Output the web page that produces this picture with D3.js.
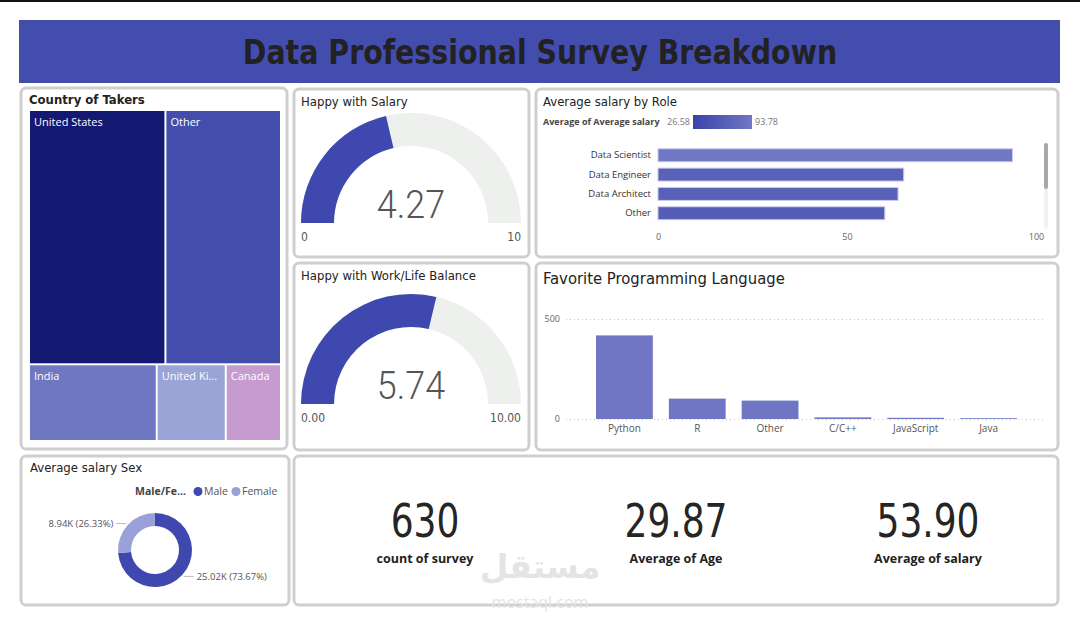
<!DOCTYPE html>
<html>
<head>
<meta charset="utf-8">
<script src="https://cdn.jsdelivr.net/npm/d3@7"></script>
<style>
  body { margin: 0; background: #fff; }
  text { font-family: "Open Sans", "Noto Sans", sans-serif; }
  .din { font-family: "DejaVu Sans Condensed", "Roboto", sans-serif; }
  .num { font-family: "Roboto", sans-serif; }
</style>
</head>
<body>
<svg id="dash" width="1080" height="622"></svg>
<script>
// ---- data ----
const countries = ["United States", "Other", "India", "United Kingdom", "Canada"];
const countryCounts = [262, 222, 74, 40, 32];

const happySalary = 4.27;
const happyBalance = 5.74;

const roles = ["Data Scientist", "Data Engineer", "Data Architect", "Other"];
const roleSalary = [93.78, 65.0, 63.5, 60.0];
const salaryRange = [26.58, 93.78];
const roleTicks = [0, 50, 100];

const languages = ["Python", "R", "Other", "C/C++", "JavaScript", "Java"];
const languageCounts = [418, 102, 92, 8, 6, 4];
const languageTicks = [0, 500];

const sexes = ["Male", "Female"];
const sexSalary = [25020, 8940];

const kpiValues = ["630", "29.87", "53.90"];
const kpiLabels = ["count of survey", "Average of Age", "Average of salary"];

// ---- colours ----
const indigo = "#3f48ae";
const countryColors = ["#131871", "#434dac", "#6e78c2", "#9ba4d6", "#c59bd0"];
const sexColors = [indigo, "#9aa0d8"];

const svg = d3.select("#dash");

// top frame line + banner
svg.append("rect").attr("x", 0).attr("y", 0).attr("width", 1080).attr("height", 2).attr("fill", "#111");
svg.append("rect").attr("x", 19).attr("y", 20).attr("width", 1041).attr("height", 63).attr("fill", "#434dae");
svg.append("text").attr("class", "din")
    .attr("transform", "translate(540,64) scale(0.93,1)")
    .attr("text-anchor", "middle")
    .attr("font-size", 34).attr("font-weight", "bold")
    .attr("fill", "#222")
    .text("Data Professional Survey Breakdown");

// cards
const cards = [
    [21, 88, 266, 361], [294, 89, 235, 168], [294, 263, 235, 187],
    [536, 89, 522, 168], [536, 263, 522, 187], [21, 456, 268, 149], [294, 456, 764, 149]
];
svg.selectAll(".card").data(cards).enter().append("rect")
    .attr("class", "card")
    .attr("x", d => d[0]).attr("y", d => d[1])
    .attr("width", d => d[2]).attr("height", d => d[3])
    .attr("rx", 5)
    .attr("fill", "#fff").attr("stroke", "#cfcfcf").attr("stroke-width", 3);

function title(x, y, txt, size, weight) {
    svg.append("text").attr("class", "din")
        .attr("x", x).attr("y", y)
        .attr("font-size", size).attr("font-weight", weight || "normal")
        .attr("fill", "#222").text(txt);
}

// ---- treemap: Country of Takers ----
title(29, 104, "Country of Takers", 13, "bold");

const treeRoot = d3.hierarchy({ children: countries.map((c, i) => ({ name: c, value: countryCounts[i] })) })
    .sum(d => d.value || 0);

d3.treemap()
    .size([250, 329])
    .paddingInner(2)
    .tile((node, x0, y0, x1, y1) => {
        // two largest on the top row, the rest underneath
        const top = node.children.slice(0, 2), bottom = node.children.slice(2);
        const topSum = d3.sum(top, d => d.value);
        const yMid = y0 + (y1 - y0) * topSum / node.value;
        d3.treemapDice({ children: top, value: topSum }, x0, y0, x1, yMid);
        d3.treemapDice({ children: bottom, value: node.value - topSum }, x0, yMid, x1, y1);
    })(treeRoot);

const tm = svg.append("g").attr("transform", "translate(30,111)");
const cell = tm.selectAll("g").data(treeRoot.leaves()).enter().append("g")
    .attr("transform", d => `translate(${d.x0},${d.y0})`);
cell.append("rect")
    .attr("width", d => d.x1 - d.x0)
    .attr("height", d => d.y1 - d.y0)
    .attr("fill", (d, i) => countryColors[i]);
cell.append("text")
    .attr("x", 4).attr("y", 15)
    .attr("font-size", 11).attr("fill", "#fff")
    .text(d => d.data.name)
    .each(function(d) {
        const el = d3.select(this), maxW = d.x1 - d.x0 - 5;
        let t = d.data.name;
        while (this.getComputedTextLength() > maxW && t.length > 1) {
            t = t.slice(0, -1);
            el.text(t.trimEnd() + "...");
        }
    });

// ---- gauges ----
function gauge(cx, cy, value, minLabel, maxLabel) {
    const angle = d3.scaleLinear().domain([0, 10]).range([-Math.PI / 2, Math.PI / 2]);
    const arc = d3.arc().innerRadius(77).outerRadius(110);
    const g = svg.append("g").attr("transform", `translate(${cx},${cy})`);
    g.append("path")
        .attr("d", arc({ startAngle: angle(0), endAngle: angle(10) }))
        .attr("fill", "#eef0ee");
    g.append("path")
        .attr("d", arc({ startAngle: angle(0), endAngle: angle(value) }))
        .attr("fill", indigo);
    g.append("text").attr("class", "num")
        .attr("transform", "translate(0,-5) scale(0.92,1)")
        .attr("text-anchor", "middle")
        .attr("font-size", 39).attr("font-weight", 300)
        .attr("fill", "#555")
        .text(value.toFixed(2));
    g.append("text").attr("class", "din")
        .attr("x", -110).attr("y", 18)
        .attr("font-size", 12).attr("fill", "#555").text(minLabel);
    g.append("text").attr("class", "din")
        .attr("x", 110).attr("y", 18).attr("text-anchor", "end")
        .attr("font-size", 12).attr("fill", "#555").text(maxLabel);
}
title(301, 106, "Happy with Salary", 13, 500);
gauge(411, 223, happySalary, "0", "10");
title(301, 280, "Happy with Work/Life Balance", 13, 500);
gauge(411, 404, happyBalance, "0.00", "10.00");

// ---- Average salary by Role ----
title(543, 106, "Average salary by Role", 13, 500);

const defs = svg.append("defs");
const grad = defs.append("linearGradient").attr("id", "salGrad");
grad.append("stop").attr("offset", "0%").attr("stop-color", "#3a43ab");
grad.append("stop").attr("offset", "100%").attr("stop-color", "#7077c4");

svg.append("text").attr("x", 543).attr("y", 125)
    .attr("font-size", 9).attr("font-weight", "bold").attr("fill", "#444")
    .text("Average of Average salary");
svg.append("text").attr("x", 690).attr("y", 125).attr("text-anchor", "end")
    .attr("font-size", 9).attr("fill", "#777").text(salaryRange[0].toFixed(2));
svg.append("rect").attr("x", 693).attr("y", 115).attr("width", 59).attr("height", 14)
    .attr("fill", "url(#salGrad)");
svg.append("text").attr("x", 755).attr("y", 125)
    .attr("font-size", 9).attr("fill", "#777").text(salaryRange[1].toFixed(2));

const xRole = d3.scaleLinear().domain([0, 100]).range([658, 1036]);
const yRole = d3.scaleBand().domain(roles).range([145.5, 223]).paddingInner(0.33).paddingOuter(0.17);
const roleColor = d3.scaleLinear().domain(salaryRange).range(["#3a43ab", "#7077c4"]);

svg.selectAll(".rbar").data(roles).enter().append("rect")
    .attr("class", "rbar")
    .attr("x", xRole(0))
    .attr("y", d => yRole(d))
    .attr("width", (d, i) => xRole(roleSalary[i]) - xRole(0))
    .attr("height", yRole.bandwidth())
    .attr("fill", (d, i) => roleColor(roleSalary[i]))
    .attr("stroke", "#c9cbea").attr("stroke-width", 1);

const yRoleAxis = svg.append("g")
    .attr("transform", `translate(${xRole(0)},0)`)
    .call(d3.axisLeft(yRole).tickSize(0).tickPadding(7));
yRoleAxis.select(".domain").remove();
yRoleAxis.selectAll("text").attr("font-size", 9.5).attr("fill", "#333")
    .style("font-family", "'Open Sans', sans-serif");

const xRoleAxis = svg.append("g")
    .attr("transform", "translate(0,230)")
    .call(d3.axisBottom(xRole).tickValues(roleTicks).tickSize(0).tickPadding(4));
xRoleAxis.select(".domain").remove();
xRoleAxis.selectAll("text").attr("font-size", 9).attr("fill", "#666")
    .style("font-family", "'Open Sans', sans-serif");

// scrollbar
svg.append("rect").attr("x", 1044).attr("y", 143).attr("width", 4).attr("height", 86).attr("rx", 2).attr("fill", "#f1f1f1");
svg.append("rect").attr("x", 1044).attr("y", 143).attr("width", 4).attr("height", 46).attr("rx", 2).attr("fill", "#a8a8a8");

// ---- Favorite Programming Language ----
title(543, 284, "Favorite Programming Language", 16.5, 500);

const xLang = d3.scaleBand().domain(languages).range([580, 1033]).paddingInner(0.22).paddingOuter(0.22);
const yLang = d3.scaleLinear().domain([0, 500]).range([419, 319]);

const yLangAxis = svg.append("g")
    .attr("transform", "translate(566,0)")
    .call(d3.axisLeft(yLang).tickValues(languageTicks).tickSize(-480).tickPadding(6));
yLangAxis.select(".domain").remove();
yLangAxis.selectAll("line").attr("stroke", "#c8c8c8").attr("stroke-dasharray", "1,3");
yLangAxis.selectAll("text").attr("font-size", 9).attr("fill", "#666")
    .style("font-family", "'Open Sans', sans-serif");

svg.selectAll(".lbar").data(languages).enter().append("rect")
    .attr("class", "lbar")
    .attr("x", d => xLang(d))
    .attr("y", (d, i) => yLang(languageCounts[i]))
    .attr("width", xLang.bandwidth())
    .attr("height", (d, i) => yLang(0) - yLang(languageCounts[i]))
    .attr("fill", "#7076c4");

const xLangAxis = svg.append("g")
    .attr("transform", "translate(0,419)")
    .call(d3.axisBottom(xLang).tickSize(0).tickPadding(6));
xLangAxis.select(".domain").remove();
xLangAxis.selectAll("text").attr("font-size", 10).attr("fill", "#555")
    .style("font-family", "'Open Sans', sans-serif");

// ---- Average salary Sex (donut) ----
title(30, 472, "Average salary Sex", 13, 500);

svg.append("text").attr("x", 135).attr("y", 495)
    .attr("font-size", 10.5).attr("font-weight", "bold").attr("fill", "#444").text("Male/Fe...");
const legendX = [198, 236];
sexes.forEach((s, i) => {
    svg.append("circle").attr("cx", legendX[i]).attr("cy", 491.5).attr("r", 4.5).attr("fill", sexColors[i]);
    svg.append("text").attr("x", legendX[i] + 6).attr("y", 495)
        .attr("font-size", 10.5).attr("fill", "#555").text(s);
});

const total = d3.sum(sexSalary);
const pie = d3.pie().sort(null).value(d => d)(sexSalary);
const donutArc = d3.arc().innerRadius(24).outerRadius(37);
const dg = svg.append("g").attr("transform", "translate(155,550)");
dg.selectAll("path").data(pie).enter().append("path")
    .attr("d", donutArc)
    .attr("fill", (d, i) => sexColors[i]);

pie.forEach((d, i) => {
    const mid = (d.startAngle + d.endAngle) / 2;
    const px = 39 * Math.sin(mid), py = -39 * Math.cos(mid);
    const dir = px >= 0 ? 1 : -1;
    dg.append("polyline")
        .attr("points", `${px},${py} ${px + dir * 10},${py}`)
        .attr("fill", "none").attr("stroke", "#bbb").attr("stroke-width", 1);
    dg.append("text")
        .attr("x", px + dir * 13).attr("y", py + 3.5)
        .attr("text-anchor", dir > 0 ? "start" : "end")
        .attr("font-size", 9.5).attr("fill", "#555")
        .text(`${(sexSalary[i] / 1000).toFixed(2)}K (${(sexSalary[i] / total * 100).toFixed(2)}%)`);
});

// watermark (sits behind the KPI texts)
svg.append("text").attr("x", 540).attr("y", 578).attr("text-anchor", "middle")
    .attr("font-size", 33).attr("font-weight", "bold").attr("fill", "#e4e4e4")
    .style("font-family", "'Noto Sans', 'DejaVu Sans', sans-serif")
    .text("مستقل");
svg.append("text").attr("x", 540).attr("y", 608).attr("text-anchor", "middle")
    .attr("font-size", 16).attr("fill", "#e4e4e4").text("mostaql.com");

// ---- KPI cards ----
const kpiX = [425, 676, 928];
kpiValues.forEach((v, i) => {
    svg.append("text").attr("class", "din")
        .attr("transform", `translate(${kpiX[i]},537) scale(0.87,1)`)
        .attr("text-anchor", "middle")
        .attr("font-size", 46).attr("fill", "#252525").text(v);
    svg.append("text")
        .attr("x", kpiX[i]).attr("y", 563).attr("text-anchor", "middle")
        .attr("font-size", 12.5).attr("font-weight", "bold").attr("fill", "#222").text(kpiLabels[i]);
});
</script>
</body>
</html>
